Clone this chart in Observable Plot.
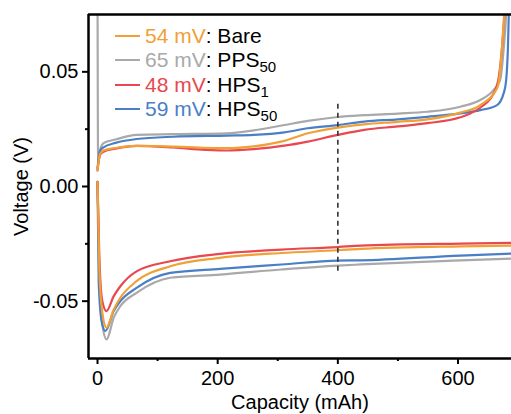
<!DOCTYPE html>
<html><head><meta charset="utf-8">
<script src="https://cdn.jsdelivr.net/npm/d3@7"></script>
<script src="https://cdn.jsdelivr.net/npm/@observablehq/plot@0.6"></script>
<style>
body{margin:0;background:#fff;}
#wrap{position:relative;width:511px;height:414px;font-family:"Liberation Sans",Arial,sans-serif;}
#legend{position:absolute;left:115px;top:24px;font-size:21px;}
.row{display:flex;align-items:center;height:24.3px;white-space:nowrap;}
.sw{width:25px;height:2px;margin-right:5px;}
sub{font-size:15px;vertical-align:-5px;line-height:0;}
</style></head><body><div id="wrap"><div id="legend"></div></div>
<script>
// ---- data ----
const seriesNames = ["Bare", "PPS50", "HPS1", "HPS50"];
const legendBase = ["Bare", "PPS", "HPS", "HPS"];
const legendSub = ["", "50", "1", "50"];
const overpotentialMV = [54, 65, 48, 59];
const seriesColors = ["#F0A035", "#A9A9A9", "#E8484F", "#4A7FC6"];

// charge (upper) curves: [capacity mAh, voltage V]
const chargeBare = [[0,0.007],[4,0.0140],[10,0.0157],[30,0.0168],[65,0.0177],[126,0.0174],[215,0.0167],[260,0.0175],[311,0.0199],[350,0.0232],[400,0.0257],[444,0.0271],[500,0.0282],[549,0.0293],[604,0.0322],[637,0.0355],[665,0.0428],[669,0.048],[673,0.060],[677,0.075],[680,0.09]];
const chargePPS50 = [[0,0.09],[1,0.0100],[5,0.0165],[10,0.0189],[30,0.0205],[65,0.0225],[126,0.0228],[215,0.0232],[260,0.0245],[311,0.0268],[350,0.0286],[400,0.0303],[444,0.0311],[500,0.0318],[549,0.0326],[604,0.0348],[637,0.0377],[659,0.0420],[670,0.0464],[676,0.060],[680,0.075],[682,0.09]];
const chargeHPS1 = [[0,0.007],[4,0.0138],[10,0.0152],[30,0.0165],[65,0.0177],[126,0.0170],[180,0.0160],[215,0.0157],[260,0.0163],[311,0.0178],[350,0.0196],[400,0.0225],[444,0.0247],[500,0.0262],[549,0.0276],[604,0.0302],[621,0.0319],[640,0.0350],[660,0.0410],[668,0.048],[673,0.060],[677,0.075],[680,0.09]];
const chargeHPS50 = [[0,0.008],[4,0.0155],[10,0.0171],[30,0.0190],[65,0.0207],[126,0.0217],[215,0.0222],[260,0.0225],[311,0.0236],[350,0.0254],[400,0.0268],[444,0.0283],[500,0.0293],[549,0.0304],[604,0.0319],[637,0.0333],[665,0.0355],[676,0.0407],[680,0.0460],[683,0.060],[686,0.09]];

// discharge (lower) curves
const dischargeBare = [[0,0.002],[3,-0.035],[8,-0.055],[15,-0.0616],[27,-0.0536],[38,-0.0485],[65,-0.0413],[121,-0.0348],[204,-0.0311],[306,-0.0290],[400,-0.0278],[438,-0.0272],[604,-0.0261],[689,-0.0258]];
const dischargePPS50 = [[0,0.002],[3,-0.040],[8,-0.060],[15,-0.0667],[27,-0.0572],[38,-0.0522],[65,-0.0464],[121,-0.0398],[204,-0.0384],[306,-0.0362],[400,-0.0345],[438,-0.0340],[604,-0.0322],[689,-0.0314]];
const dischargeHPS1 = [[0,0.002],[3,-0.030],[8,-0.050],[15,-0.0543],[27,-0.0478],[38,-0.0435],[65,-0.0370],[121,-0.0326],[204,-0.0294],[306,-0.0275],[400,-0.0264],[438,-0.0258],[604,-0.0249],[689,-0.0246]];
const dischargeHPS50 = [[0,0.002],[2,-0.042],[7,-0.059],[13,-0.0630],[27,-0.0543],[38,-0.0500],[65,-0.0442],[121,-0.0377],[204,-0.0359],[306,-0.0340],[400,-0.0323],[438,-0.0322],[604,-0.0301],[689,-0.0293]];

const xTicks = [0, 200, 400, 600];
const xMinorTicks = [100, 300, 500];
const yTicks = [-0.05, 0, 0.05];
const yMinorTicks = [-0.025, 0.025];
const xDomain = [-15, 689];
const yDomain = [-0.075, 0.075];
const markerCapacity = 400;
const markerRange = [-0.037, 0.036];

// ---- build table ----
const curves = {
  Bare: [chargeBare, dischargeBare],
  PPS50: [chargePPS50, dischargePPS50],
  HPS1: [chargeHPS1, dischargeHPS1],
  HPS50: [chargeHPS50, dischargeHPS50]
};
const drawOrder = ["PPS50", "HPS50", "HPS1", "Bare"];
const rows = [];
for (const name of drawOrder) {
  curves[name].forEach((pts, k) => {
    pts.forEach(([x, y]) => rows.push({series: name, part: k ? "d" : "c", x, y}));
  });
}

const chart = Plot.plot({
  width: 511,
  height: 414,
  marginLeft: 88,
  marginRight: 0,
  marginTop: 14,
  marginBottom: 56,
  style: {fontFamily: '"Liberation Sans", Arial, sans-serif', fontSize: "20px", color: "#000", background: "#fff"},
  x: {domain: xDomain},
  y: {domain: yDomain},
  color: {domain: seriesNames, range: seriesColors},
  marks: [
    Plot.line(rows, {x: "x", y: "y", z: d => d.series + d.part, stroke: "series", strokeWidth: 2.2, curve: "monotone-x", clip: true}),
    Plot.ruleX([markerCapacity], {y1: markerRange[0], y2: markerRange[1], stroke: "#333", strokeWidth: 1.6, strokeDasharray: "5,4"}),
    Plot.ruleX([xDomain[0]], {stroke: "#000", strokeWidth: 2.5}),
    Plot.ruleY(yDomain, {stroke: "#000", strokeWidth: 2.5}),
    Plot.axisY({ticks: yTicks, tickSize: 6, tickPadding: 4, strokeWidth: 2, fontSize: 20, tickFormat: d => d.toFixed(2), label: "Voltage (V)", labelAnchor: "center", labelArrow: "none", labelOffset: 75}),
    Plot.axisY({ticks: yMinorTicks, tickSize: 3, strokeWidth: 2, tickFormat: () => "", label: null}),
    Plot.axisX({ticks: xTicks, tickSize: 6, tickPadding: 6, strokeWidth: 2, fontSize: 20, label: "Capacity (mAh)", labelAnchor: "center", labelArrow: "none", labelOffset: 50}),
    Plot.axisX({ticks: xMinorTicks, tickSize: 3, strokeWidth: 2, tickFormat: () => "", label: null})
  ]
});
const wrap = document.getElementById("wrap");
wrap.insertBefore(chart, wrap.firstChild);

// legend
const legend = document.getElementById("legend");
seriesNames.forEach((name, i) => {
  const row = document.createElement("div");
  row.className = "row";
  row.innerHTML = `<span class="sw" style="background:${seriesColors[i]}"></span>` +
    `<span style="color:${seriesColors[i]}">${overpotentialMV[i]} mV</span>` +
    `<span>: ${legendBase[i]}${legendSub[i] ? `<sub>${legendSub[i]}</sub>` : ""}</span>`;
  legend.appendChild(row);
});
</script>
</body></html>
